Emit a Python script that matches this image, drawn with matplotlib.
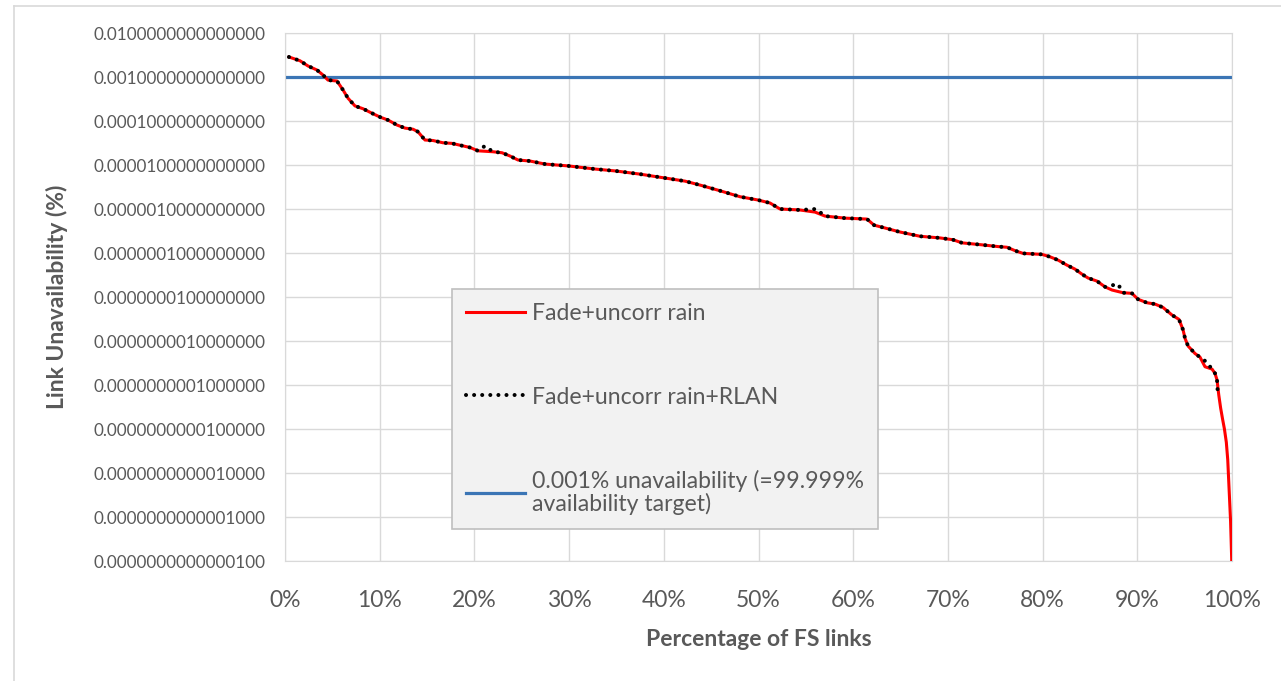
import numpy as np
import matplotlib.pyplot as plt
from matplotlib.lines import Line2D

# Datos (x en %, y en % de indisponibilidad)
fs_pct = [0.42, 1.58, 2.43, 3.38, 4.01, 4.54, 5.49, 6.12, 6.65, 7.39,
          8.24, 9.19, 10.03, 10.88, 11.83, 12.67, 13.52, 14.04, 14.78, 15.63,
          16.68, 17.63, 18.69, 19.54, 20.38, 21.96, 22.91, 23.76, 24.60, 25.87,
          27.46, 29.99, 32.73, 34.95, 37.49, 40.02, 42.24, 43.82, 45.93, 48.05,
          49.95, 51.21, 52.27, 54.38, 55.97, 57.02, 59.13, 61.46, 62.20, 63.36,
          64.94, 67.05, 69.17, 70.54, 71.49, 73.39, 75.29, 76.24, 77.09, 77.93,
          79.94, 80.78, 81.63, 82.57, 83.42, 84.16, 84.80, 85.74, 86.59, 87.33,
          88.49, 89.44, 90.07, 91.02, 91.87, 92.71, 93.66, 94.40, 94.83, 95.04,
          95.36, 96.09, 96.62, 97.15, 97.89, 98.20, 98.42, 98.60, 98.80, 99.00,
          99.20, 99.40, 99.55, 99.70, 99.85, 99.97]

fade_rain = [2.85e-3, 2.34e-3, 1.78e-3, 1.44e-3, 1.11e-3, 8.5e-4, 8.1e-4, 5.1e-4, 3.3e-4, 2.2e-4,
             1.9e-4, 1.5e-4, 1.23e-4, 1.05e-4, 8.1e-5, 6.9e-5, 6.5e-5, 5.7e-5, 3.7e-5, 3.6e-5,
             3.2e-5, 3.1e-5, 2.75e-5, 2.5e-5, 2.1e-5, 2.0e-5, 1.9e-5, 1.6e-5, 1.3e-5, 1.23e-5,
             1.05e-5, 9.5e-6, 8.1e-6, 7.3e-6, 6.2e-6, 5.1e-6, 4.3e-6, 3.5e-6, 2.6e-6, 1.9e-6,
             1.6e-6, 1.37e-6, 1.0e-6, 9.5e-7, 8.5e-7, 6.9e-7, 6.2e-7, 5.9e-7, 4.3e-7, 3.7e-7,
             3.0e-7, 2.4e-7, 2.2e-7, 2.0e-7, 1.7e-7, 1.55e-7, 1.4e-7, 1.35e-7, 1.13e-7, 9.8e-8,
             9.3e-8, 8.2e-8, 6.9e-8, 5.3e-8, 4.3e-8, 3.3e-8, 2.7e-8, 2.3e-8, 1.7e-8, 1.44e-8,
             1.25e-8, 1.21e-8, 8.9e-9, 7.4e-9, 6.9e-9, 5.8e-9, 3.9e-9, 3.1e-9, 1.8e-9, 1.15e-9,
             7.7e-10, 5.2e-10, 4.3e-10, 2.6e-10, 2.3e-10, 1.85e-10, 1.3e-10, 6.0e-11, 3.0e-11, 1.7e-11,
             1.0e-11, 5.0e-12, 2.0e-12, 4.0e-13, 8.0e-14, 1.05e-14]

# Serie con RLAN: casi igual, termina en ~98.5% y tiene algunos puntos sueltos
rlan_pct = [0.42, 1.58, 2.43, 3.38, 4.01, 4.54, 5.49, 6.12, 6.65, 7.39,
            8.24, 9.19, 10.03, 10.88, 11.83, 12.67, 13.52, 14.04, 14.78, 15.63,
            16.68, 17.63, 18.69, 19.54, 20.38, 21.10, 21.96, 22.91, 23.76, 24.60,
            25.87, 27.46, 29.99, 32.73, 34.95, 37.49, 40.02, 42.24, 43.82, 45.93,
            48.05, 49.95, 51.21, 52.27, 54.38, 56.07, 57.02, 59.13, 61.46, 62.20,
            63.36, 64.94, 67.05, 69.17, 70.54, 71.49, 73.39, 75.29, 76.24, 77.09,
            77.93, 79.94, 80.78, 81.63, 82.57, 83.42, 84.16, 84.80, 85.74, 86.59,
            87.96, 88.49, 89.44, 90.07, 91.02, 91.87, 92.71, 93.66, 94.40, 94.83,
            95.04, 95.36, 96.09, 96.62, 97.25, 97.89, 98.20, 98.42, 98.52]

rlan = [2.85e-3, 2.34e-3, 1.78e-3, 1.44e-3, 1.11e-3, 8.5e-4, 8.1e-4, 5.1e-4, 3.3e-4, 2.2e-4,
        1.9e-4, 1.5e-4, 1.23e-4, 1.05e-4, 8.1e-5, 6.9e-5, 6.5e-5, 5.7e-5, 3.7e-5, 3.6e-5,
        3.2e-5, 3.1e-5, 2.75e-5, 2.5e-5, 2.1e-5, 2.7e-5, 2.0e-5, 1.9e-5, 1.6e-5, 1.3e-5,
        1.23e-5, 1.05e-5, 9.5e-6, 8.1e-6, 7.3e-6, 6.2e-6, 5.1e-6, 4.3e-6, 3.5e-6, 2.6e-6,
        1.9e-6, 1.6e-6, 1.37e-6, 1.0e-6, 9.5e-7, 1.0e-6, 6.9e-7, 6.2e-7, 5.9e-7, 4.3e-7,
        3.7e-7, 3.0e-7, 2.4e-7, 2.2e-7, 2.0e-7, 1.7e-7, 1.55e-7, 1.4e-7, 1.35e-7, 1.13e-7,
        9.8e-8, 9.3e-8, 8.2e-8, 6.9e-8, 5.3e-8, 4.3e-8, 3.3e-8, 2.7e-8, 2.3e-8, 1.7e-8,
        1.97e-8, 1.25e-8, 1.21e-8, 8.9e-9, 7.4e-9, 6.9e-9, 5.8e-9, 3.9e-9, 3.1e-9, 1.8e-9,
        1.15e-9, 7.7e-10, 5.2e-10, 4.3e-10, 3.4e-10, 2.3e-10, 1.85e-10, 1.3e-10, 5.4e-11]

target_pct = [0, 100]
target = [0.001, 0.001]

y_ticks = [1e-2, 1e-3, 1e-4, 1e-5, 1e-6, 1e-7, 1e-8, 1e-9, 1e-10, 1e-11, 1e-12, 1e-13, 1e-14]
x_ticks = [0, 10, 20, 30, 40, 50, 60, 70, 80, 90, 100]

labels = ['Fade+uncorr rain', 'Fade+uncorr rain+RLAN',
          '0.001% unavailability (=99.999%\navailability target)']

gris = '#595959'
rejilla = '#d9d9d9'
plt.rcParams['font.family'] = ['Lato', 'DejaVu Sans']

'''''''''''''''''''''''''''
GRÁFICO
---------
'''''''''''''''''''''''''''
fig = plt.figure(figsize=(12.81, 6.81), dpi=100)
ax = fig.add_axes([285 / 1281, 1 - 561 / 681, 947 / 1281, 528 / 681])

ax.plot(fs_pct, fade_rain, color='#ff0000', lw=2.2, label=labels[0], zorder=3)
ax.plot(rlan_pct, rlan, color='black', lw=2.9, linestyle=(0, (0.01, 2.0)),
        dash_capstyle='round', label=labels[1], zorder=4)
ax.plot(target_pct, target, color='#3b75b5', lw=2.3, label=labels[2], zorder=2)

ax.set_yscale('log')
ax.set_ylim(1e-14, 1e-2)
ax.set_xlim(0, 100)
ax.set_yticks(y_ticks)
ax.set_yticklabels([f'{v:.16f}' for v in y_ticks])
ax.minorticks_off()
ax.set_xticks(x_ticks)
ax.set_xticklabels([f'{v}%' for v in x_ticks])
ax.tick_params(axis='y', length=0, pad=14, labelsize=12.3, labelcolor=gris)
ax.tick_params(axis='x', length=0, pad=21, labelsize=16.5, labelcolor=gris)
ax.grid(color=rejilla, lw=1)
for s in ax.spines.values():
    s.set_color(rejilla)

ax.set_xlabel('Percentage of FS links', fontsize=16.5, fontweight='bold', color=gris, labelpad=13)
ax.set_ylabel('Link Unavailability (%)', fontsize=16.5, fontweight='bold', color=gris)
ax.yaxis.set_label_coords(-(285 - 68) / 947, 0.5)

leg = ax.legend(loc='upper left', bbox_to_anchor=(452 / 1281, 1 - 289 / 681),
                bbox_transform=fig.transFigure, borderaxespad=0, fontsize=16.6,
                labelcolor=gris, frameon=True, fancybox=False, framealpha=1,
                facecolor='#f2f2f2', edgecolor='#bfbfbf', labelspacing=2.7,
                handlelength=2.55, handletextpad=0.3, borderpad=0.62)
leg.get_frame().set_linewidth(1.2)
leg.get_texts()[2].set_linespacing(1.05)

# borde del área del gráfico (como en la hoja de Excel)
fig.add_artist(Line2D([14 / 1281, 14 / 1281], [0, 1 - 6 / 681], color=rejilla, lw=1.2))
fig.add_artist(Line2D([14 / 1281, 1], [1 - 6 / 681, 1 - 6 / 681], color=rejilla, lw=1.2))

fig.savefig('out.png', dpi=100)
